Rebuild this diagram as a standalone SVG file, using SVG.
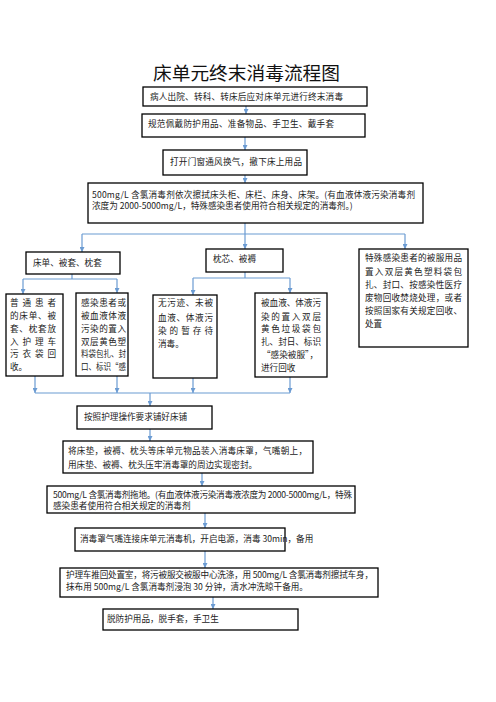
<svg xmlns="http://www.w3.org/2000/svg" width="496" height="702" viewBox="0 0 496 702">
<style>
.box{fill:#fff;stroke:#000;stroke-width:1.3}
.t{font-family:"Noto Sans CJK SC","Liberation Sans",sans-serif;font-size:8.6px;fill:#222}
.title{font-family:"Noto Sans CJK SC","Liberation Sans",sans-serif;font-size:18px;fill:#111}
.c{fill:none;stroke:#6b9bd2;stroke-width:1.2}
</style>
<defs>
<marker id="ah" markerUnits="userSpaceOnUse" markerWidth="5" markerHeight="5" refX="5" refY="2.5" orient="auto">
<path d="M0,0 L5,2.5 L0,5 z" fill="#6b9bd2"/>
</marker>
</defs>
<rect width="496" height="702" fill="#fff"/>
<text class="title" x="153" y="80" textLength="187" lengthAdjust="spacingAndGlyphs">床单元终末消毒流程图</text>

<g id="connectors">
<path class="c" d="M246,106 V114" marker-end="url(#ah)"/>
<path class="c" d="M245,137 V150" marker-end="url(#ah)"/>
<path class="c" d="M245,175 V183" marker-end="url(#ah)"/>
<path class="c" d="M245,223 V234 M82,234 H405"/>
<path class="c" d="M82,234 V252" marker-end="url(#ah)"/>
<path class="c" d="M245,234 V249" marker-end="url(#ah)"/>
<path class="c" d="M405,234 V249" marker-end="url(#ah)"/>
<path class="c" d="M72,274 V279 M23,279 H117"/>
<path class="c" d="M23,279 V294" marker-end="url(#ah)"/>
<path class="c" d="M117,279 V293" marker-end="url(#ah)"/>
<path class="c" d="M245,272 V278 M193,278 H290"/>
<path class="c" d="M193,278 V295" marker-end="url(#ah)"/>
<path class="c" d="M290,278 V293" marker-end="url(#ah)"/>
<path class="c" d="M35,376 V393" marker-end="url(#ah)"/>
<path class="c" d="M117,376 V393" marker-end="url(#ah)"/>
<path class="c" d="M193,378 V393" marker-end="url(#ah)"/>
<path class="c" d="M290,377 V393" marker-end="url(#ah)"/>
<path class="c" d="M35,393 H290"/>
<path class="c" d="M150,393 V406" marker-end="url(#ah)"/>
<path class="c" d="M150,429 V441" marker-end="url(#ah)"/>
<path class="c" d="M202,473 V486" marker-end="url(#ah)"/>
<path class="c" d="M205,513 V528" marker-end="url(#ah)"/>
<path class="c" d="M205,551 V568" marker-end="url(#ah)"/>
<path class="c" d="M213,597 V609" marker-end="url(#ah)"/>
</g>

<g id="n1">
<rect class="box" x="143" y="87" width="224" height="19"/>
<text class="t" x="150" y="99.5" textLength="193">病人出院、转科、转床后应对床单元进行终末消毒</text>
</g>
<g id="n2">
<rect class="box" x="142" y="114" width="223" height="23"/>
<text class="t" x="148" y="127" textLength="186">规范佩戴防护用品、准备物品、手卫生、戴手套</text>
</g>
<g id="n3">
<rect class="box" x="163" y="150" width="144" height="25"/>
<text class="t" x="170" y="165" textLength="132">打开门窗通风换气，撤下床上用品</text>
</g>
<g id="n4">
<rect class="box" x="88" y="183" width="335" height="40"/>
<text class="t" x="92" y="198" textLength="323">500mg/L 含氯消毒剂依次擦拭床头柜、床栏、床身、床架。(有血液体液污染消毒剂</text>
<text class="t" x="92" y="209">浓度为 2000-5000mg/L，特殊感染患者使用符合相关规定的消毒剂。)</text>
</g>
<g id="n5">
<rect class="box" x="26" y="252" width="94" height="22"/>
<text class="t" x="33" y="266">床单、被套、枕套</text>
</g>
<g id="n6">
<rect class="box" x="206" y="249" width="77" height="23"/>
<text class="t" x="213" y="262">枕芯、被褥</text>
</g>
<g id="n7">
<rect class="box" x="359" y="249" width="109" height="98"/>
<text class="t" x="365" y="261" textLength="97">特殊感染患者的被服用品</text>
<text class="t" x="365" y="275" textLength="97">置入双层黄色塑料袋包</text>
<text class="t" x="365" y="288" textLength="97">扎、封口、按感染性医疗</text>
<text class="t" x="365" y="301" textLength="97">废物回收焚烧处理，或者</text>
<text class="t" x="365" y="314" textLength="97">按照国家有关规定回收、</text>
<text class="t" x="365" y="327">处置</text>
</g>
<g id="n5a">
<rect class="box" x="6" y="294" width="57" height="82"/>
<text class="t" x="10" y="306" textLength="46">普通患者</text>
<text class="t" x="10" y="319" textLength="46">的床单、被</text>
<text class="t" x="10" y="332" textLength="46">套、枕套放</text>
<text class="t" x="10" y="345" textLength="46">入护理车</text>
<text class="t" x="10" y="357" textLength="46">污衣袋回</text>
<text class="t" x="10" y="370">收。</text>
</g>
<g id="n5b">
<rect class="box" x="76" y="293" width="52" height="83"/>
<text class="t" x="81" y="306" textLength="45">感染患者或</text>
<text class="t" x="81" y="319" textLength="45">被血液体液</text>
<text class="t" x="81" y="332" textLength="45">污染的置入</text>
<text class="t" x="81" y="345" textLength="45">双层黄色塑</text>
<text class="t" x="81" y="357" textLength="45" lengthAdjust="spacingAndGlyphs">料袋包扎、封</text>
<text class="t" x="81" y="370" textLength="45" lengthAdjust="spacingAndGlyphs">口、标识“感</text>
</g>
<g id="n6a">
<rect class="box" x="153" y="295" width="64" height="83"/>
<text class="t" x="158" y="306" textLength="55">无污迹、未被</text>
<text class="t" x="158" y="321" textLength="55">血液、体液污</text>
<text class="t" x="158" y="334" textLength="55">染的暂存待</text>
<text class="t" x="158" y="347">消毒。</text>
</g>
<g id="n6b">
<rect class="box" x="255" y="293" width="72" height="84"/>
<text class="t" x="261" y="306" textLength="60">被血液、体液污</text>
<text class="t" x="261" y="320" textLength="60">染的置入双层</text>
<text class="t" x="261" y="332" textLength="60">黄色垃圾袋包</text>
<text class="t" x="261" y="345" textLength="60">扎、封日、标识</text>
<text class="t" x="262" y="358" textLength="56">“感染被服”，</text>
<text class="t" x="261" y="371">进行回收</text>
</g>
<g id="n8">
<rect class="box" x="77" y="406" width="135" height="23"/>
<text class="t" x="84" y="420">按照护理操作要求铺好床铺</text>
</g>
<g id="n9">
<rect class="box" x="63" y="441" width="250" height="32"/>
<text class="t" x="68" y="454" textLength="239">将床垫，被褥、枕头等床单元物品装入消毒床罩，气嘴朝上，</text>
<text class="t" x="68" y="468">用床垫、被褥、枕头压牢消毒罩的周边实现密封。</text>
</g>
<g id="n10">
<rect class="box" x="47" y="486" width="308" height="27"/>
<text class="t" x="53" y="498" textLength="299">500mg/L 含氯消毒剂拖地。(有血液体液污染消毒液浓度为 2000-5000mg/L，特殊</text>
<text class="t" x="53" y="509">感染患者使用符合相关规定的消毒剂</text>
</g>
<g id="n11">
<rect class="box" x="75" y="528" width="210" height="23"/>
<text class="t" x="80" y="542">消毒罩气嘴连接床单元消毒机，开启电源，消毒 30min，备用</text>
</g>
<g id="n12">
<rect class="box" x="60" y="568" width="318" height="29"/>
<text class="t" x="66" y="578" textLength="307">护理车推回处置室，将污被服交被服中心洗涤，用 500mg/L 含氯消毒剂擦拭车身，</text>
<text class="t" x="66" y="590">抹布用 500mg/L 含氯消毒剂浸泡 30 分钟，清水冲洗晾干备用。</text>
</g>
<g id="n13">
<rect class="box" x="103" y="609" width="195" height="21"/>
<text class="t" x="107" y="622">脱防护用品，脱手套，手卫生</text>
</g>
</svg>
